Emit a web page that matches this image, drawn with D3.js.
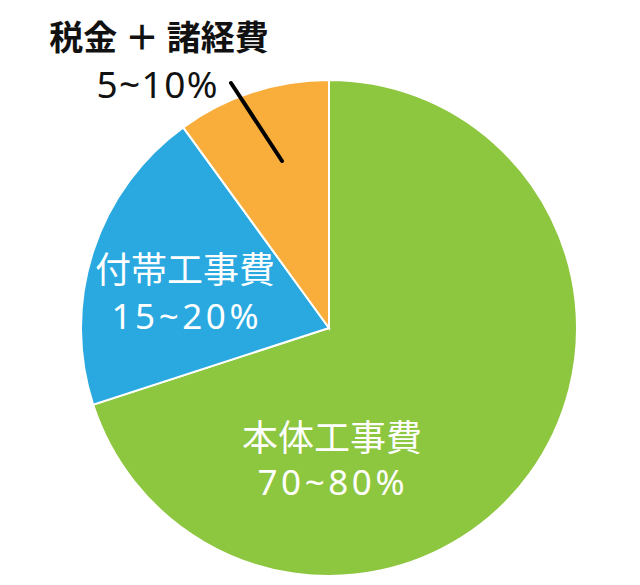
<!DOCTYPE html>
<html><head><meta charset="utf-8">
<script src="https://cdn.jsdelivr.net/npm/d3@7"></script>
<style>html,body{margin:0;padding:0;background:#fff;}svg{display:block;}
text{font-family:"Noto Sans CJK JP","Noto Sans",sans-serif;}</style>
</head><body>
<svg id="c" width="640" height="585"></svg>
<script>
const categories = ["本体工事費", "付帯工事費", "税金 ＋ 諸経費"];
const values = [70, 20, 10];
const rangeLabels = ["70~80%", "15~20%", "5~10%"];
const colors = ["#8DC63F", "#29A9E0", "#F9AE3C"];

const svg = d3.select("#c");
const cx = 329, cy = 328, r = 248;
const g = svg.append("g").attr("transform", `translate(${cx},${cy})`);
const pie = d3.pie().sort(null).value(d => d)(values);
const arc = d3.arc().innerRadius(0).outerRadius(r);
g.selectAll("path").data(pie).enter().append("path")
  .attr("d", arc).attr("fill", (d, i) => colors[i])
  .attr("stroke", "#fff").attr("stroke-width", 2);

const labelPos = [
  {x: 332, y1: 451, fs1: 36, x2: 331, y2: 495, fs2: 35, ls: 3.6, color: "#fff", bold: false},
  {x: 185, y1: 283, fs1: 36, x2: 185, y2: 329, fs2: 35, ls: 3.6, color: "#fff", bold: false},
  {x: 159, y1: 50, fs1: 34, x2: 157, y2: 98, fs2: 37, ls: 1.4, color: "#111", bold: true}
];
categories.forEach((c, i) => {
  const p = labelPos[i];
  svg.append("text").attr("x", p.x).attr("y", p.y1).attr("text-anchor", "middle")
    .attr("font-size", p.fs1).attr("fill", p.color).attr("font-weight", p.bold ? 700 : 400).text(c);
  svg.append("text").attr("x", p.x2 + p.ls / 2).attr("y", p.y2).attr("text-anchor", "middle")
    .attr("font-size", p.fs2).attr("fill", p.color).attr("letter-spacing", p.ls)
    .style("font-family", '"Noto Sans",sans-serif').text(rangeLabels[i]);
});
svg.append("line").attr("x1", 231).attr("y1", 83).attr("x2", 282).attr("y2", 161)
  .attr("stroke", "#000").attr("stroke-width", 4).attr("stroke-linecap", "round");
</script>
</body></html>
